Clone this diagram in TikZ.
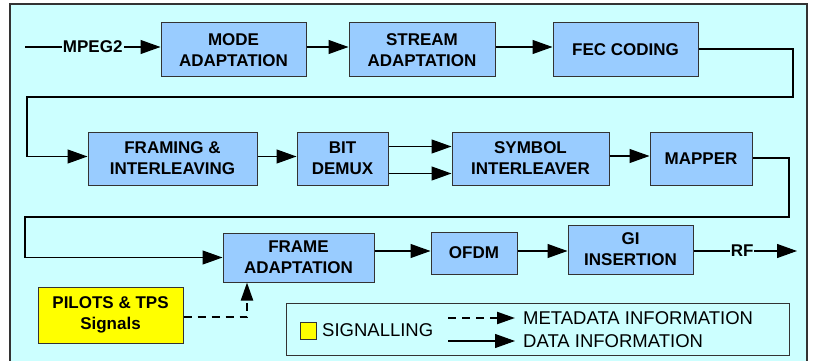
\documentclass[tikz,border=0pt]{standalone}
\usepackage{fontspec}
\setmainfont{Liberation Sans}
\usetikzlibrary{arrows.meta}
\definecolor{bgcyan}{HTML}{CCFFFF}
\definecolor{boxblue}{HTML}{99CCFF}
\definecolor{sigyellow}{HTML}{FFFF00}
\definecolor{edgegray}{HTML}{333333}
\begin{document}
\begin{tikzpicture}[x=1pt,y=-1pt,
  blk/.style={draw=edgegray,line width=1pt,fill=boxblue,align=center,inner sep=0pt,
    font=\fontsize{17}{21}\selectfont\bfseries,text=black},
  sig/.style={blk,fill=sigyellow},
  flow/.style={line width=1.1pt,-{Triangle[length=20pt,width=14pt]}},
  meta/.style={line width=2.2pt,dash pattern=on 8pt off 6pt,-{Triangle[length=18pt,width=12pt]}},
  lbl/.style={fill=bgcyan,inner sep=1pt,font=\fontsize{17}{21}\selectfont\bfseries},
  leg/.style={font=\fontsize{18.5}{22}\selectfont,inner sep=0pt,anchor=west}]
\useasboundingbox (0,0) rectangle (814,361);
\fill[white] (0,0) rectangle (814,361);
\fill[bgcyan] (10,4) rectangle (807,361);
\draw[edgegray,line width=1.3pt] (10,361) -- (10,4) -- (807,4) -- (807,361);
% blocks
\node[blk,minimum width=145pt,minimum height=54pt] (mode) at (233.5,50) {MODE\\ADAPTATION};
\node[blk,minimum width=146pt,minimum height=54pt] (stream) at (422,50) {STREAM\\ADAPTATION};
\node[blk,minimum width=145pt,minimum height=54pt] (fec) at (625.5,50) {FEC CODING};
\node[blk,minimum width=169pt,minimum height=53pt] (framing) at (172.5,158.5) {FRAMING \&\\INTERLEAVING};
\node[blk,minimum width=91pt,minimum height=53pt] (bitdemux) at (342.5,158.5) {BIT\\DEMUX};
\node[blk,minimum width=157pt,minimum height=53pt] (symbol) at (530.5,158.5) {SYMBOL\\INTERLEAVER};
\node[blk,minimum width=102pt,minimum height=53pt] (mapper) at (701,158.5) {MAPPER};
\node[blk,minimum width=151pt,minimum height=49pt] (frame) at (298.5,257.5) {FRAME\\ADAPTATION};
\node[blk,minimum width=86pt,minimum height=42pt] (ofdm) at (474,253) {OFDM};
\node[blk,minimum width=125pt,minimum height=49pt] (gi) at (630.5,249.5) {GI\\INSERTION};
\node[sig,minimum width=145pt,minimum height=56pt] (pilots) at (110.5,315) {PILOTS \& TPS\\Signals};
% legend
\node[draw=edgegray,line width=1pt,minimum width=503pt,minimum height=52pt,inner sep=0pt] (legend) at (537.5,329) {};
\node[draw=edgegray,line width=0.8pt,fill=sigyellow,minimum width=16pt,minimum height=17pt,inner sep=0pt] (sq) at (308,330.5) {};
\node[leg] (sigtxt) at (322,330.5) {SIGNALLING};
\coordinate (m1) at (448,318);
\node[leg] (metatxt) at (523,318) {METADATA INFORMATION};
\coordinate (d1) at (448,341);
\node[leg] (datatxt) at (523,341) {DATA INFORMATION};
\draw[meta] (m1) -- ([xshift=-8pt]metatxt.west);
\draw[flow] (d1) -- ([xshift=-8pt]datatxt.west);
% input / output coordinates
\coordinate (in) at (25,47);
\coordinate (out) at (797,251);
% connectors
\draw[flow] (in) -- node[lbl,pos=0.5] {MPEG2} ([yshift=3pt]mode.west);
\draw[flow] ([yshift=3pt]mode.east) -- ([yshift=3pt]stream.west);
\draw[flow] ([yshift=3pt]stream.east) -- ([yshift=3pt]fec.west);
\coordinate (r1) at (793,97);
\coordinate (l1) at (27,97);
\draw[flow] ([yshift=1pt]fec.east) -| (r1) -- (l1) |- ([yshift=2pt]framing.west);
\draw[flow] ([yshift=2pt]framing.east) -- ([yshift=2pt]bitdemux.west);
\draw[flow] ([yshift=12pt]bitdemux.east) -- ([yshift=12pt]symbol.west);
\draw[flow] ([yshift=-15pt]bitdemux.east) -- ([yshift=-15pt]symbol.west);
\draw[flow] ([yshift=2.5pt]symbol.east) -- ([yshift=2.5pt]mapper.west);
\coordinate (r2) at (789,217);
\coordinate (l2) at (25,217);
\draw[flow] ([yshift=0.5pt]mapper.east) -| (r2) -- (l2) |- (frame.west);
\draw[flow] ([yshift=6.5pt]frame.east) -- ([yshift=2pt]ofdm.west);
\draw[flow] ([yshift=2pt]ofdm.east) -- ([yshift=-1.5pt]gi.west);
\draw[flow] ([yshift=-1.5pt]gi.east) -- node[lbl,pos=0.47] {RF} (out);
\coordinate (pd) at (247,317);
\draw[meta] ([yshift=-2pt]pilots.east) -- (pd) -- (pd |- frame.south);
\end{tikzpicture}
\end{document}
